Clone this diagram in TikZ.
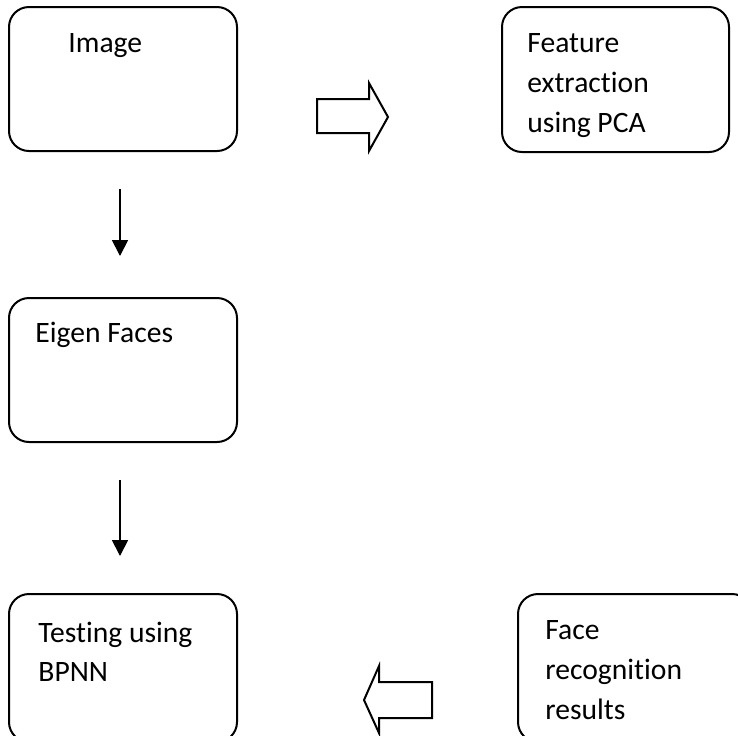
\documentclass[tikz,border=0pt]{standalone}
\usepackage{fontspec}
\setmainfont[Ligatures=NoCommon]{Carlito}
\usetikzlibrary{arrows.meta,positioning}

\begin{document}
\begin{tikzpicture}[x=0.5pt,y=-0.5pt]
\tikzstyle{box}=[draw,line width=1pt,rounded corners=10pt,inner sep=0pt]
\tikzstyle{lbl}=[anchor=base west,inner sep=0pt,font=\fontsize{14.8pt}{20pt}\selectfont]
\tikzstyle{flow}=[line width=0.9pt,-{Triangle[width=8pt,length=8pt]}]
\tikzstyle{block}=[line width=1pt,line join=miter]

\useasboundingbox (0,0) rectangle (738,735);
\clip (0,0) rectangle (738,735);

% the five stages
\node[box,minimum width=114pt,minimum height=72pt] (image) at (123,79) {};
\node[box,minimum width=113.5pt,minimum height=72.5pt] (feature) at (615.5,79.5) {};
\node[box,minimum width=114pt,minimum height=72pt] (eigen) at (123,370) {};
\node[box,minimum width=114pt,minimum height=74pt] (testing) at (123,668) {};
\node[box,minimum width=117pt,minimum height=74pt] (results) at (635,668) {};

% their texts
\node[lbl] (imagetxt) at (68,52) {Image};
\node[lbl] (featuretxt1) at (527,52) {Feature};
\node[lbl] (featuretxt2) at (527,92) {extraction};
\node[lbl] (featuretxt3) at (527,132) {using PCA};
\node[lbl] (eigentxt) at (35,342) {Eigen Faces};
\node[lbl] (testingtxt1) at (38,642) {Testing using};
\node[lbl] (testingtxt2) at (38,681) {BPNN};
\node[lbl] (resultstxt1) at (545,639) {Face};
\node[lbl] (resultstxt2) at (545,679) {recognition};
\node[lbl] (resultstxt3) at (545,719) {results};

% down arrows
\draw[flow,shorten <=18.5pt,shorten >=20.5pt]
  ([xshift=-1.5pt]image.south) -- ([xshift=-1.5pt]eigen.north);
\draw[flow,shorten <=18.5pt,shorten >=18.5pt]
  ([xshift=-1.5pt]eigen.south) -- ([xshift=-1.5pt]testing.north);

% hollow block arrows
\draw[block] (317,99) -- (369,99) -- (369,83) -- (388,117) -- (369,151)
  -- (369,133) -- (317,133) -- cycle;
\draw[block] (432,682) -- (379,682) -- (379,666) -- (364,700) -- (379,733)
  -- (379,718) -- (432,718) -- cycle;
\end{tikzpicture}
\end{document}
